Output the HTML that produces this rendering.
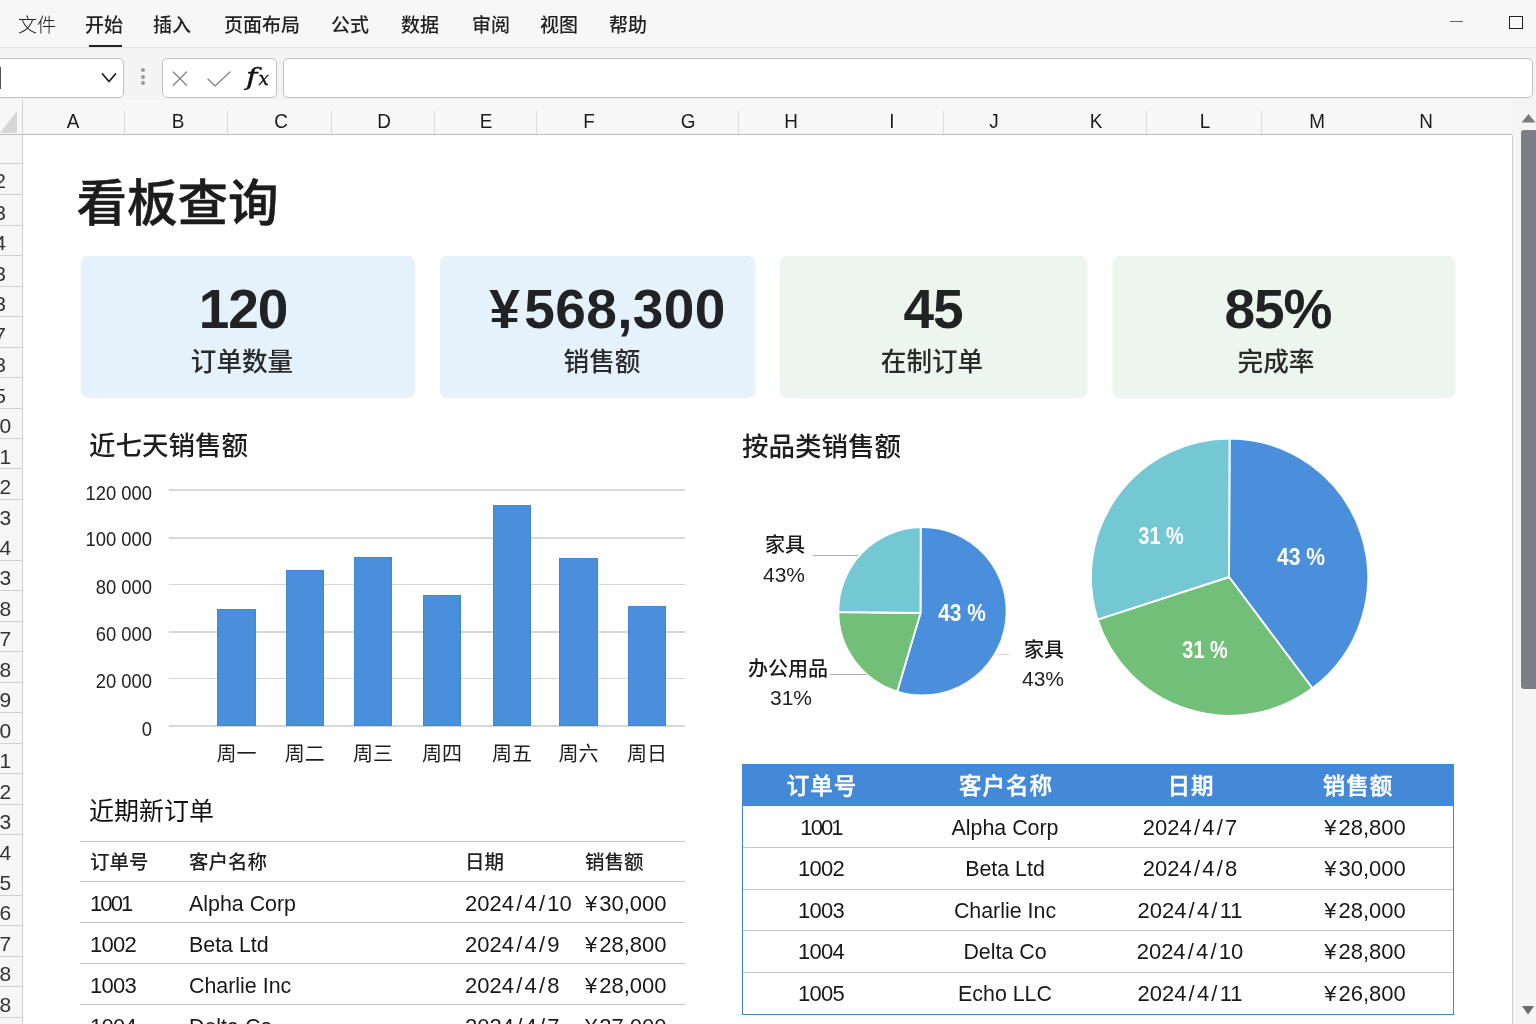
<!DOCTYPE html>
<html lang="zh-CN"><head><meta charset="utf-8"><title>看板查询</title>
<style>
html,body{margin:0;padding:0}
body{width:1536px;height:1024px;overflow:hidden;position:relative;background:#fff;
 font-family:"Liberation Sans","Noto Sans CJK SC",sans-serif;color:#1f1f1f}
.a{position:absolute;white-space:nowrap}
.c{position:absolute;white-space:nowrap;text-align:center;transform:translateX(-50%)}
.r{position:absolute;white-space:nowrap;text-align:right;transform:translateX(-100%)}
.ln{position:absolute;background:#d4d4d4;height:1px}
.card{position:absolute;border-radius:7px;box-shadow:0 1px 1.5px rgba(160,175,190,0.22)}
.num{font-weight:700;font-size:55px;line-height:60px;color:#202224;letter-spacing:-1.1px}
.lab{font-size:25.6px;line-height:30px;color:#2a2a2a;font-weight:500}
.sec{font-size:26.5px;line-height:32px;font-weight:500;color:#1e1e1e}
.ax{font-size:20px;line-height:22px;color:#242424;transform:translateX(-100%) scaleX(0.92);transform-origin:100% 50%}
.xl{font-size:20px;line-height:24px;color:#1e1e1e}
.td{font-size:22px;line-height:26px;color:#181818}
.th{font-size:19.5px;line-height:26px;color:#222;font-weight:500}
.bar{position:absolute;background:#4a8fdc;box-shadow:inset 0 0 0 0.6px #3f80cf}
.rh{position:absolute;left:0;width:23px;border-bottom:1px solid #d0d0d0;border-right:1px solid #d0d0d0;background:#f6f6f6;box-sizing:border-box;overflow:hidden}
.rh span{position:absolute;top:5.5px;font-size:21px;line-height:24px;color:#333;font-weight:300}
.col{font-size:21px;line-height:24px;color:#1c1c1c;transform:translateX(-50%) scaleX(0.9)}
.tab{font-size:19px;line-height:24px;color:#222}
</style></head><body>

<div class="a" style="left:0;top:0;width:1536px;height:47px;background:#f7f7f7"></div>
<div class="a" style="left:0;top:47px;width:1536px;height:53px;background:#f4f4f4;border-top:1px solid #e3e3e3;box-sizing:border-box"></div>
<div class="c tab" style="left:37px;top:13.5px;font-weight:300">文件</div>
<div class="c tab" style="left:104px;top:13.5px;font-weight:500">开始</div>
<div class="c tab" style="left:172px;top:13.5px;font-weight:500">插入</div>
<div class="c tab" style="left:262px;top:13.5px;font-weight:500">页面布局</div>
<div class="c tab" style="left:350px;top:13.5px;font-weight:500">公式</div>
<div class="c tab" style="left:420px;top:13.5px;font-weight:500">数据</div>
<div class="c tab" style="left:491px;top:13.5px;font-weight:500">审阅</div>
<div class="c tab" style="left:559px;top:13.5px;font-weight:500">视图</div>
<div class="c tab" style="left:628px;top:13.5px;font-weight:500">帮助</div>
<div class="a" style="left:89px;top:44.5px;width:33px;height:2px;background:#222"></div>
<div class="a" style="left:1450px;top:21px;width:13px;height:1px;background:#666"></div>
<div class="a" style="left:1509px;top:16px;width:14px;height:13px;border:1.5px solid #222;box-sizing:border-box"></div>
<div class="a" style="left:-6px;top:58px;width:130px;height:40px;background:#fff;border:1px solid #c0c0c0;border-radius:5px;box-sizing:border-box"></div>
<div class="a" style="left:0;top:67px;width:1px;height:22px;background:#555"></div>
<svg class="a" style="left:100px;top:71px" width="18" height="14" viewBox="0 0 18 14"><path d="M2.5 3 L9 10.5 L15.5 3" fill="none" stroke="#222" stroke-width="1.8" stroke-linecap="round" stroke-linejoin="round"/></svg>
<div class="a" style="left:141px;top:68.3px;width:4px;height:4px;border-radius:2px;background:#9a9a9a"></div>
<div class="a" style="left:141px;top:74.8px;width:4px;height:4px;border-radius:2px;background:#9a9a9a"></div>
<div class="a" style="left:141px;top:81.3px;width:4px;height:4px;border-radius:2px;background:#9a9a9a"></div>
<div class="a" style="left:162px;top:58px;width:115px;height:40px;background:#fff;border:1px solid #c0c0c0;border-radius:5px;box-sizing:border-box"></div>
<svg class="a" style="left:170px;top:68.5px" width="20" height="20" viewBox="0 0 20 20"><path d="M3.3 3 L16.5 16.2 M16.5 3 L3.3 16.2" fill="none" stroke="#8a8a8a" stroke-width="1.5" stroke-linecap="round"/></svg>
<svg class="a" style="left:205px;top:68px" width="28" height="20" viewBox="0 0 28 20"><path d="M3 11 L10 18 L25 4" fill="none" stroke="#8a8a8a" stroke-width="1.5" stroke-linecap="round" stroke-linejoin="round"/></svg>
<div class="a" style="left:246px;top:62px;font-family:'DejaVu Serif','Liberation Serif',serif;font-style:italic;font-size:24px;line-height:30px;color:#111;-webkit-text-stroke:0.35px #111"><span style="display:inline-block;transform:scaleX(1.28);transform-origin:0 50%">f</span><span style="font-size:18.5px;margin-left:3.5px">x</span></div>
<div class="a" style="left:283px;top:58px;width:1250px;height:40px;background:#fff;border:1px solid #c0c0c0;border-radius:5px;box-sizing:border-box"></div>
<div class="a" style="left:0;top:100px;width:1536px;height:35px;background:#f7f7f7"></div>
<div class="a" style="left:0;top:134px;width:1512px;height:1px;background:#bdbdbd"></div>
<div class="c col" style="left:73px;top:108.5px">A</div>
<div class="c col" style="left:178px;top:108.5px">B</div>
<div class="c col" style="left:281px;top:108.5px">C</div>
<div class="c col" style="left:384px;top:108.5px">D</div>
<div class="c col" style="left:486px;top:108.5px">E</div>
<div class="c col" style="left:589px;top:108.5px">F</div>
<div class="c col" style="left:688px;top:108.5px">G</div>
<div class="c col" style="left:791px;top:108.5px">H</div>
<div class="c col" style="left:892px;top:108.5px">I</div>
<div class="c col" style="left:994px;top:108.5px">J</div>
<div class="c col" style="left:1096px;top:108.5px">K</div>
<div class="c col" style="left:1205px;top:108.5px">L</div>
<div class="c col" style="left:1317px;top:108.5px">M</div>
<div class="c col" style="left:1426px;top:108.5px">N</div>
<div class="a" style="left:124px;top:111px;width:1px;height:23px;background:#dcdcdc"></div>
<div class="a" style="left:227px;top:111px;width:1px;height:23px;background:#dcdcdc"></div>
<div class="a" style="left:331px;top:111px;width:1px;height:23px;background:#dcdcdc"></div>
<div class="a" style="left:434px;top:111px;width:1px;height:23px;background:#dcdcdc"></div>
<div class="a" style="left:536px;top:111px;width:1px;height:23px;background:#dcdcdc"></div>
<div class="a" style="left:738px;top:111px;width:1px;height:23px;background:#dcdcdc"></div>
<div class="a" style="left:943px;top:111px;width:1px;height:23px;background:#dcdcdc"></div>
<div class="a" style="left:1146px;top:111px;width:1px;height:23px;background:#dcdcdc"></div>
<div class="a" style="left:1261px;top:111px;width:1px;height:23px;background:#dcdcdc"></div>
<svg class="a" style="left:0;top:100px" width="23" height="35" viewBox="0 0 23 35"><path d="M17 11 L17 33 L0 33 Z" fill="#d6d6d6"/></svg>
<div class="a" style="left:22px;top:100px;width:1px;height:35px;background:#d0d0d0"></div>
<div class="a" style="left:0;top:135px;width:23px;height:889px;background:#f6f6f6"></div>
<div class="rh" style="top:135.0px;height:28.8px"><span style="right:16px"></span></div>
<div class="rh" style="top:163.8px;height:31.7px"><span style="right:16px">2</span></div>
<div class="rh" style="top:195.5px;height:30.4px"><span style="right:16px">3</span></div>
<div class="rh" style="top:225.9px;height:30.4px"><span style="right:16px">4</span></div>
<div class="rh" style="top:256.4px;height:30.4px"><span style="right:16px">3</span></div>
<div class="rh" style="top:286.8px;height:30.4px"><span style="right:16px">3</span></div>
<div class="rh" style="top:317.3px;height:30.4px"><span style="right:16px">7</span></div>
<div class="rh" style="top:347.7px;height:30.4px"><span style="right:16px">3</span></div>
<div class="rh" style="top:378.2px;height:30.4px"><span style="right:16px">5</span></div>
<div class="rh" style="top:408.6px;height:30.4px"><span style="right:10.8px">0</span></div>
<div class="rh" style="top:439.1px;height:30.4px"><span style="right:10.8px">1</span></div>
<div class="rh" style="top:469.5px;height:30.4px"><span style="right:10.8px">2</span></div>
<div class="rh" style="top:500.0px;height:30.5px"><span style="right:10.8px">3</span></div>
<div class="rh" style="top:530.4px;height:30.5px"><span style="right:10.8px">4</span></div>
<div class="rh" style="top:560.9px;height:30.5px"><span style="right:10.8px">3</span></div>
<div class="rh" style="top:591.4px;height:30.5px"><span style="right:10.8px">8</span></div>
<div class="rh" style="top:621.8px;height:30.5px"><span style="right:10.8px">7</span></div>
<div class="rh" style="top:652.3px;height:30.5px"><span style="right:10.8px">8</span></div>
<div class="rh" style="top:682.7px;height:30.5px"><span style="right:10.8px">9</span></div>
<div class="rh" style="top:713.2px;height:30.5px"><span style="right:10.8px">0</span></div>
<div class="rh" style="top:743.6px;height:30.5px"><span style="right:10.8px">1</span></div>
<div class="rh" style="top:774.1px;height:30.5px"><span style="right:10.8px">2</span></div>
<div class="rh" style="top:804.5px;height:30.5px"><span style="right:10.8px">3</span></div>
<div class="rh" style="top:835.0px;height:30.5px"><span style="right:10.8px">4</span></div>
<div class="rh" style="top:865.4px;height:30.5px"><span style="right:10.8px">5</span></div>
<div class="rh" style="top:895.9px;height:30.5px"><span style="right:10.8px">6</span></div>
<div class="rh" style="top:926.3px;height:30.5px"><span style="right:10.8px">7</span></div>
<div class="rh" style="top:956.8px;height:30.5px"><span style="right:10.8px">8</span></div>
<div class="rh" style="top:987.2px;height:30.5px"><span style="right:10.8px">8</span></div>
<div class="rh" style="top:1017.7px;height:30.4px"><span style="right:10.8px">9</span></div>
<div class="a" style="left:1512px;top:100px;width:24px;height:924px;background:#f5f5f5"></div>
<div class="a" style="left:1512px;top:135px;width:1px;height:889px;background:#cfcfcf"></div>
<svg class="a" style="left:1520px;top:112px" width="16" height="12" viewBox="0 0 16 12"><path d="M1.5 10.5 L8.5 2 L15.5 10.5 Z" fill="#7b7b7b"/></svg>
<div class="a" style="left:1521px;top:130px;width:20px;height:559px;background:#7b7f85;border-radius:3px"></div>
<svg class="a" style="left:1520px;top:1004px" width="16" height="12" viewBox="0 0 16 12"><path d="M2 2 L8 10.5 L14 2 Z" fill="#6b6b6b"/></svg>
<div class="a" style="left:76.5px;top:172px;font-size:50.5px;line-height:64px;font-weight:500;-webkit-text-stroke:0.5px #1c1c1c;color:#1c1c1c">看板查询</div>
<div class="card" style="left:81px;top:256px;width:333.5px;height:141px;background:#e6f2fb"></div>
<div class="c num" style="left:243px;top:279px">120</div>
<div class="c lab" style="left:242px;top:347px">订单数量</div>
<div class="card" style="left:440px;top:256px;width:315px;height:141px;background:#e6f2fb"></div>
<div class="c num" style="left:607.5px;top:279px;letter-spacing:0.4px"><span style="margin-right:4px">¥</span>568,300</div>
<div class="c lab" style="left:602px;top:347px">销售额</div>
<div class="card" style="left:780px;top:256px;width:307px;height:141px;background:#edf6ee"></div>
<div class="c num" style="left:933px;top:279px">45</div>
<div class="c lab" style="left:932px;top:347px">在制订单</div>
<div class="card" style="left:1113px;top:256px;width:342px;height:141px;background:#edf6ee"></div>
<div class="c num" style="left:1278px;top:279px">85%</div>
<div class="c lab" style="left:1276px;top:347px">完成率</div>
<div class="a sec" style="left:89px;top:430px">近七天销售额</div>
<div class="ln" style="left:169px;top:489.25px;width:516px;height:1.5px;background:#d6d6d6"></div>
<div class="r ax" style="left:152px;top:481.5px">120 000</div>
<div class="ln" style="left:169px;top:537.25px;width:516px;height:1.5px;background:#d6d6d6"></div>
<div class="r ax" style="left:152px;top:527.5px">100 000</div>
<div class="ln" style="left:169px;top:583.75px;width:516px;height:1.5px;background:#d6d6d6"></div>
<div class="r ax" style="left:152px;top:575.5px">80 000</div>
<div class="ln" style="left:169px;top:631.25px;width:516px;height:1.5px;background:#d6d6d6"></div>
<div class="r ax" style="left:152px;top:622.5px">60 000</div>
<div class="ln" style="left:169px;top:677.75px;width:516px;height:1.5px;background:#d6d6d6"></div>
<div class="r ax" style="left:152px;top:669.5px">20 000</div>
<div class="ln" style="left:169px;top:725.25px;width:516px;height:1.5px;background:#d6d6d6"></div>
<div class="r ax" style="left:152px;top:717.5px">0</div>
<div class="bar" style="left:217px;top:609px;width:39px;height:117px"></div>
<div class="c xl" style="left:236.5px;top:741.5px">周一</div>
<div class="bar" style="left:285.5px;top:569.5px;width:38.5px;height:156.5px"></div>
<div class="c xl" style="left:304.75px;top:741.5px">周二</div>
<div class="bar" style="left:354px;top:556.5px;width:38px;height:169.5px"></div>
<div class="c xl" style="left:373.0px;top:741.5px">周三</div>
<div class="bar" style="left:423px;top:594.5px;width:38px;height:131.5px"></div>
<div class="c xl" style="left:442.0px;top:741.5px">周四</div>
<div class="bar" style="left:493px;top:505px;width:38px;height:221px"></div>
<div class="c xl" style="left:512.0px;top:741.5px">周五</div>
<div class="bar" style="left:559px;top:558px;width:39px;height:168px"></div>
<div class="c xl" style="left:578.5px;top:741.5px">周六</div>
<div class="bar" style="left:628px;top:606px;width:38px;height:120px"></div>
<div class="c xl" style="left:647.0px;top:741.5px">周日</div>
<div class="a" style="left:89px;top:796px;font-size:25px;line-height:30px;font-weight:400;color:#111">近期新订单</div>
<div class="ln" style="left:80px;top:840.5px;width:605px;background:#c4c4c4"></div>
<div class="ln" style="left:80px;top:881.0px;width:605px;background:#c4c4c4"></div>
<div class="ln" style="left:80px;top:922.0px;width:605px;background:#c4c4c4"></div>
<div class="ln" style="left:80px;top:963.0px;width:605px;background:#c4c4c4"></div>
<div class="ln" style="left:80px;top:1003.5px;width:605px;background:#c4c4c4"></div>
<div class="a th" style="left:90px;top:849px">订单号</div>
<div class="a th" style="left:189px;top:849px">客户名称</div>
<div class="a th" style="left:465px;top:849px">日期</div>
<div class="a th" style="left:585px;top:849px">销售额</div>
<div class="a td" style="left:90px;top:890.5px"><span style="letter-spacing:-1.9px">1001</span></div>
<div class="a td" style="left:189px;top:890.5px"><span style="font-size:21.4px">Alpha Corp</span></div>
<div class="a td" style="left:465px;top:890.5px">2024<span style="margin:0 2.2px">/</span>4<span style="margin:0 2.2px">/</span>10</div>
<div class="a td" style="left:585px;top:890.5px"><span style="margin-right:2px">¥</span>30,000</div>
<div class="a td" style="left:90px;top:931.5px"><span style="letter-spacing:-0.7px">1002</span></div>
<div class="a td" style="left:189px;top:931.5px"><span style="font-size:21.4px">Beta Ltd</span></div>
<div class="a td" style="left:465px;top:931.5px">2024<span style="margin:0 2.2px">/</span>4<span style="margin:0 2.2px">/</span>9</div>
<div class="a td" style="left:585px;top:931.5px"><span style="margin-right:2px">¥</span>28,800</div>
<div class="a td" style="left:90px;top:972.5px"><span style="letter-spacing:-0.7px">1003</span></div>
<div class="a td" style="left:189px;top:972.5px"><span style="font-size:21.4px">Charlie Inc</span></div>
<div class="a td" style="left:465px;top:972.5px">2024<span style="margin:0 2.2px">/</span>4<span style="margin:0 2.2px">/</span>8</div>
<div class="a td" style="left:585px;top:972.5px"><span style="margin-right:2px">¥</span>28,000</div>
<div class="a td" style="left:90px;top:1013.5px"><span style="letter-spacing:-0.7px">1004</span></div>
<div class="a td" style="left:189px;top:1013.5px"><span style="font-size:21.4px">Delta Co</span></div>
<div class="a td" style="left:465px;top:1013.5px">2024<span style="margin:0 2.2px">/</span>4<span style="margin:0 2.2px">/</span>7</div>
<div class="a td" style="left:585px;top:1013.5px"><span style="margin-right:2px">¥</span>27,000</div>
<div class="a sec" style="left:742px;top:430.5px">按品类销售额</div>
<svg class="a" style="left:730px;top:420px" width="780" height="320" viewBox="730 420 780 320"><path d="M920.5 613.0 L920.7 527.1 A84.2 84.2 0 1 1 897.2 691.6 Z" fill="#4a8fdc" stroke="#fff" stroke-width="1.9" stroke-linejoin="round"/><path d="M920.5 613.0 L897.2 691.6 A84.2 84.2 0 0 1 838.3 612.0 Z" fill="#72bf78" stroke="#fff" stroke-width="1.9" stroke-linejoin="round"/><path d="M920.5 613.0 L838.3 612.0 A84.2 84.2 0 0 1 920.7 527.1 Z" fill="#74c8d4" stroke="#fff" stroke-width="1.9" stroke-linejoin="round"/><path d="M1229.0 577.0 L1229.6 438.6 A138.6 138.6 0 0 1 1312.4 688.3 Z" fill="#4a8fdc" stroke="#fff" stroke-width="1.9" stroke-linejoin="round"/><path d="M1229.0 577.0 L1312.4 688.3 A138.6 138.6 0 0 1 1097.6 619.6 Z" fill="#72bf78" stroke="#fff" stroke-width="1.9" stroke-linejoin="round"/><path d="M1229.0 577.0 L1097.6 619.6 A138.6 138.6 0 0 1 1229.6 438.6 Z" fill="#74c8d4" stroke="#fff" stroke-width="1.9" stroke-linejoin="round"/><path d="M813 555.5 H858 M830 674.5 H867" stroke="#b0b0b0" stroke-width="1" fill="none"/><path d="M997 654.5 H1009" stroke="#d4d4d4" stroke-width="1" fill="none"/></svg>
<div class="c" style="left:962px;top:597.5px;font-size:24px;line-height:30px;color:#fff;font-weight:700;transform:translateX(-50%) scaleX(0.87)">43 %</div>
<div class="c" style="left:1301.2px;top:542.3px;font-size:24px;line-height:30px;color:#fff;font-weight:700;transform:translateX(-50%) scaleX(0.88)">43 %</div>
<div class="c" style="left:1161.2px;top:521.2px;font-size:24px;line-height:30px;color:#fff;font-weight:700;transform:translateX(-50%) scaleX(0.83)">31 %</div>
<div class="c" style="left:1205px;top:635px;font-size:24px;line-height:30px;color:#fff;font-weight:700;transform:translateX(-50%) scaleX(0.83)">31 %</div>
<div class="c" style="left:785px;top:529.5px;font-size:20px;line-height:30px;color:#1a1a1a;font-weight:500">家具</div>
<div class="c" style="left:784px;top:559.5px;font-size:21px;line-height:30px;color:#222;font-weight:400">43%</div>
<div class="c" style="left:788px;top:654px;font-size:20px;line-height:30px;color:#1a1a1a;font-weight:500">办公用品</div>
<div class="c" style="left:791px;top:683px;font-size:21px;line-height:30px;color:#222;font-weight:400">31%</div>
<div class="c" style="left:1044px;top:635px;font-size:20px;line-height:30px;color:#1a1a1a;font-weight:500">家具</div>
<div class="c" style="left:1043px;top:664.3px;font-size:21px;line-height:30px;color:#222;font-weight:400">43%</div>
<div class="a" style="left:742px;top:764px;width:712px;height:251px;border:1.5px solid #3f84d2;box-sizing:border-box;background:#fff"></div>
<div class="a" style="left:742px;top:764px;width:712px;height:42px;background:#4488d8"></div>
<div class="ln" style="left:743px;top:847.0px;width:710px;background:#c6c6c6"></div>
<div class="ln" style="left:743px;top:888.5px;width:710px;background:#c6c6c6"></div>
<div class="ln" style="left:743px;top:930.0px;width:710px;background:#c6c6c6"></div>
<div class="ln" style="left:743px;top:971.5px;width:710px;background:#c6c6c6"></div>
<div class="c" style="left:822px;top:773px;font-size:22.5px;letter-spacing:1px;line-height:28px;color:#fff;font-weight:500;-webkit-text-stroke:0.45px #fff">订单号</div>
<div class="c" style="left:1006px;top:773px;font-size:22.5px;letter-spacing:1px;line-height:28px;color:#fff;font-weight:500;-webkit-text-stroke:0.45px #fff">客户名称</div>
<div class="c" style="left:1191px;top:773px;font-size:22.5px;letter-spacing:1px;line-height:28px;color:#fff;font-weight:500;-webkit-text-stroke:0.45px #fff">日期</div>
<div class="c" style="left:1358px;top:773px;font-size:22.5px;letter-spacing:1px;line-height:28px;color:#fff;font-weight:500;-webkit-text-stroke:0.45px #fff">销售额</div>
<div class="c td" style="left:821px;top:814.5px"><span style="letter-spacing:-1.9px">1001</span></div>
<div class="c td" style="left:1005px;top:814.5px"><span style="font-size:21.4px">Alpha Corp</span></div>
<div class="c td" style="left:1190px;top:814.5px">2024<span style="margin:0 2.2px">/</span>4<span style="margin:0 2.2px">/</span>7</div>
<div class="c td" style="left:1365px;top:814.5px"><span style="margin-right:2px">¥</span>28,800</div>
<div class="c td" style="left:821px;top:856.0px"><span style="letter-spacing:-0.7px">1002</span></div>
<div class="c td" style="left:1005px;top:856.0px"><span style="font-size:21.4px">Beta Ltd</span></div>
<div class="c td" style="left:1190px;top:856.0px">2024<span style="margin:0 2.2px">/</span>4<span style="margin:0 2.2px">/</span>8</div>
<div class="c td" style="left:1365px;top:856.0px"><span style="margin-right:2px">¥</span>30,000</div>
<div class="c td" style="left:821px;top:897.5px"><span style="letter-spacing:-0.7px">1003</span></div>
<div class="c td" style="left:1005px;top:897.5px"><span style="font-size:21.4px">Charlie Inc</span></div>
<div class="c td" style="left:1190px;top:897.5px">2024<span style="margin:0 2.2px">/</span>4<span style="margin:0 2.2px">/</span>11</div>
<div class="c td" style="left:1365px;top:897.5px"><span style="margin-right:2px">¥</span>28,000</div>
<div class="c td" style="left:821px;top:939.0px"><span style="letter-spacing:-0.7px">1004</span></div>
<div class="c td" style="left:1005px;top:939.0px"><span style="font-size:21.4px">Delta Co</span></div>
<div class="c td" style="left:1190px;top:939.0px">2024<span style="margin:0 2.2px">/</span>4<span style="margin:0 2.2px">/</span>10</div>
<div class="c td" style="left:1365px;top:939.0px"><span style="margin-right:2px">¥</span>28,800</div>
<div class="c td" style="left:821px;top:980.5px"><span style="letter-spacing:-0.7px">1005</span></div>
<div class="c td" style="left:1005px;top:980.5px"><span style="font-size:21.4px">Echo LLC</span></div>
<div class="c td" style="left:1190px;top:980.5px">2024<span style="margin:0 2.2px">/</span>4<span style="margin:0 2.2px">/</span>11</div>
<div class="c td" style="left:1365px;top:980.5px"><span style="margin-right:2px">¥</span>26,800</div>
</body></html>
